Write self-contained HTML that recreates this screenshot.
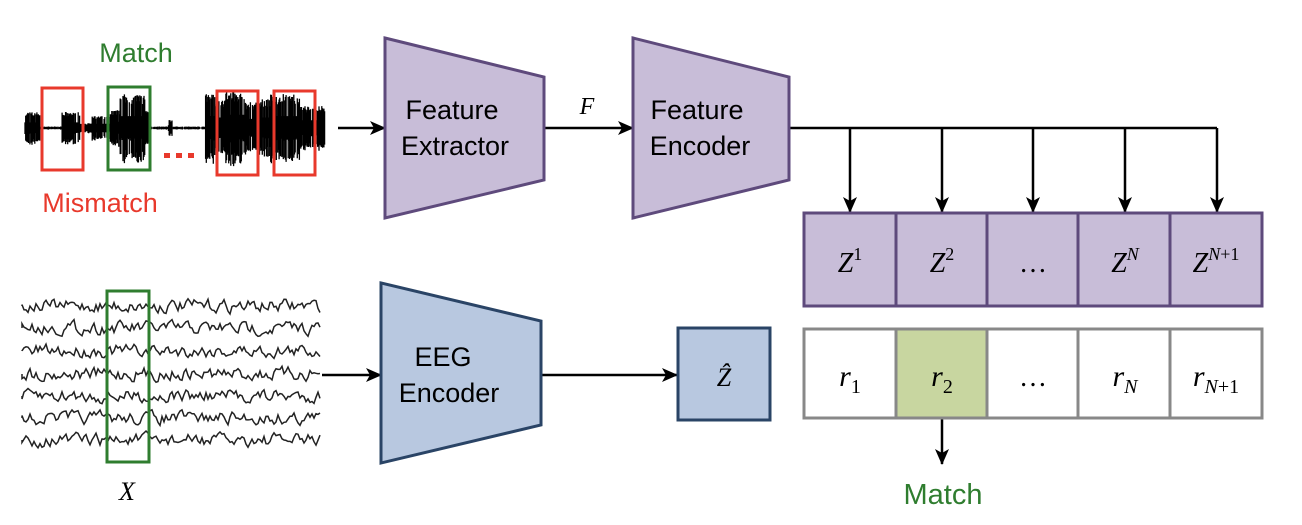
<!DOCTYPE html>
<html><head><meta charset="utf-8"><style>
html,body{margin:0;padding:0;background:#fff;}
.s{font-family:"Liberation Sans",sans-serif;}
.m{font-family:"Liberation Serif",serif;font-style:italic;}
</style></head><body>
<svg id="s" width="1302" height="520" viewBox="0 0 1302 520" xmlns="http://www.w3.org/2000/svg">
<defs><marker id="a" markerWidth="16" markerHeight="14" refX="15" refY="7" orient="auto" markerUnits="userSpaceOnUse"><path d="M0,0 L16,7 L0,14 L4,7 z" fill="#000"/></marker></defs>
<g id="wave"></g>
<g id="eeg" stroke="#222" stroke-width="1.5" fill="none"></g>
<rect x="42" y="88" width="41" height="82" fill="none" stroke="#e8392c" stroke-width="3"/>
<rect x="108" y="87" width="42" height="83" fill="none" stroke="#2f7d2f" stroke-width="3"/>
<rect x="217" y="91" width="41" height="84" fill="none" stroke="#e8392c" stroke-width="3"/>
<rect x="274" y="91" width="41" height="84" fill="none" stroke="#e8392c" stroke-width="3"/>
<g fill="#e8392c"><rect x="164" y="153" width="6" height="5"/><rect x="176" y="153" width="6" height="5"/><rect x="188" y="153" width="6" height="5"/></g>
<text class="s" x="136" y="62" font-size="27" fill="#2f7d2f" text-anchor="middle">Match</text>
<text class="s" x="100" y="212" font-size="27" fill="#e8392c" text-anchor="middle">Mismatch</text>
<rect x="107" y="291" width="42" height="171" fill="none" stroke="#2f7d2f" stroke-width="3"/>
<text x="127" y="500" font-size="26" class="m" text-anchor="middle">X</text>
<g stroke="#000" stroke-width="2.5" fill="none">
<line x1="338" y1="128" x2="385" y2="128" marker-end="url(#a)"/>
<line x1="544" y1="128" x2="633" y2="128" marker-end="url(#a)"/>
<path d="M789,128 H1217"/>
<line x1="850" y1="128" x2="850" y2="212" marker-end="url(#a)"/>
<line x1="942" y1="128" x2="942" y2="212" marker-end="url(#a)"/>
<line x1="1033" y1="128" x2="1033" y2="212" marker-end="url(#a)"/>
<line x1="1125" y1="128" x2="1125" y2="212" marker-end="url(#a)"/>
<line x1="1217" y1="128" x2="1217" y2="212" marker-end="url(#a)"/>
<line x1="322" y1="375" x2="381" y2="375" marker-end="url(#a)"/>
<line x1="541" y1="375" x2="677" y2="375" marker-end="url(#a)"/>
<line x1="942" y1="418" x2="942" y2="464" marker-end="url(#a)"/>
</g>
<text x="587" y="114" font-size="24" class="m" text-anchor="middle">F</text>
<polygon points="385,38 544,77 544,180 385,218" fill="#c8bdd8" stroke="#5e4a7c" stroke-width="3"/>
<text class="s" x="452" y="119" font-size="27" text-anchor="middle">Feature</text>
<text class="s" x="455" y="155" font-size="27" text-anchor="middle">Extractor</text>
<polygon points="633,38 789,77 789,180 633,218" fill="#c8bdd8" stroke="#5e4a7c" stroke-width="3"/>
<text class="s" x="697" y="119" font-size="27" text-anchor="middle">Feature</text>
<text class="s" x="700" y="155" font-size="27" text-anchor="middle">Encoder</text>
<polygon points="381,283 541,321 541,425 381,463" fill="#b8c8e0" stroke="#2a4466" stroke-width="3"/>
<text class="s" x="443" y="366" font-size="27" text-anchor="middle">EEG</text>
<text class="s" x="449" y="402" font-size="27" text-anchor="middle">Encoder</text>
<rect x="678" y="328" width="92" height="92" fill="#b8c8e0" stroke="#2a4466" stroke-width="3"/>
<text x="724" y="386" font-size="26" class="m" text-anchor="middle">Ẑ</text>
<rect x="804" y="213" width="458" height="93" fill="#c8bdd8" stroke="#5e4a7c" stroke-width="3"/>
<g stroke="#5e4a7c" stroke-width="3"><line x1="896" y1="213" x2="896" y2="306"/><line x1="987" y1="213" x2="987" y2="306"/><line x1="1078" y1="213" x2="1078" y2="306"/><line x1="1170" y1="213" x2="1170" y2="306"/></g>
<g font-size="28" text-anchor="middle" style="font-family:'Liberation Serif',serif">
<text x="850" y="272"><tspan style="font-style:italic">Z</tspan><tspan font-size="18" dy="-12">1</tspan></text>
<text x="942" y="272"><tspan style="font-style:italic">Z</tspan><tspan font-size="18" dy="-12">2</tspan></text>
<text x="1033" y="272">…</text>
<text x="1125" y="272"><tspan style="font-style:italic">Z</tspan><tspan font-size="18" dy="-12" style="font-style:italic">N</tspan></text>
<text x="1216" y="272"><tspan style="font-style:italic">Z</tspan><tspan font-size="18" dy="-12"><tspan style="font-style:italic">N</tspan>+1</tspan></text>
</g>
<rect x="804" y="329" width="458" height="89" fill="#fff" stroke="#888" stroke-width="3"/>
<rect x="896" y="329" width="91" height="89" fill="#c8d6a0" stroke="#888" stroke-width="3"/>
<g stroke="#888" stroke-width="3"><line x1="1078" y1="329" x2="1078" y2="418"/><line x1="1170" y1="329" x2="1170" y2="418"/></g>
<g font-size="30" text-anchor="middle" style="font-family:'Liberation Serif',serif">
<text x="850" y="386"><tspan style="font-style:italic">r</tspan><tspan font-size="20" dy="7">1</tspan></text>
<text x="942" y="386"><tspan style="font-style:italic">r</tspan><tspan font-size="20" dy="7">2</tspan></text>
<text x="1033" y="386" font-size="28">…</text>
<text x="1125" y="386"><tspan style="font-style:italic">r</tspan><tspan font-size="20" dy="7" style="font-style:italic">N</tspan></text>
<text x="1216" y="386"><tspan style="font-style:italic">r</tspan><tspan font-size="20" dy="7"><tspan style="font-style:italic">N</tspan>+1</tspan></text>
</g>
<text class="s" x="943" y="504" font-size="29" fill="#2f7d2f" text-anchor="middle">Match</text>
</svg>
<script>
(function(){
var seed=7;function R(){seed=(seed*16807)%2147483647;return seed/2147483647;}
function env(x){
 if(x<25)return 0;
 if(x<40)return 16;
 if(x<62)return 1.5;
 if(x<80)return 16;
 if(x<92)return 5;
 if(x<110)return 12;
 if(x<150)return (x>120&&x<145)?34:18;
 if(x<205)return (x>168&&x<172)?8:1.5;
 if(x<325){var b=[[205,215,34],[215,225,30],[225,245,38],[245,260,26],[260,270,30],[270,300,34],[300,325,22]];for(var i=0;i<b.length;i++)if(x<b[i][1])return b[i][2];}
 return 0;}
var d="";
for(var x=25;x<=325;x+=0.7){var a=env(x);a=a*(R()>0.15?0.7+0.3*R():0.35);d+="M"+x.toFixed(1)+","+(128-a).toFixed(1)+"V"+(128+a*(0.85+0.25*R())).toFixed(1);}
document.getElementById("wave").innerHTML='<path d="'+d+'" stroke="#000" stroke-width="1.3" fill="none"/>';
var h="";var ys=[306,328,351,374,396,418,440];
for(var i=0;i<7;i++){var p="M22,"+ys[i];var v=0;for(var x=22;x<=320;x+=2){v=v*0.5+(R()-0.5)*11;p+="L"+x+","+(ys[i]+v).toFixed(1);}h+='<path d="'+p+'"/>';}
document.getElementById("eeg").innerHTML=h;
})();
</script>
</body></html>
